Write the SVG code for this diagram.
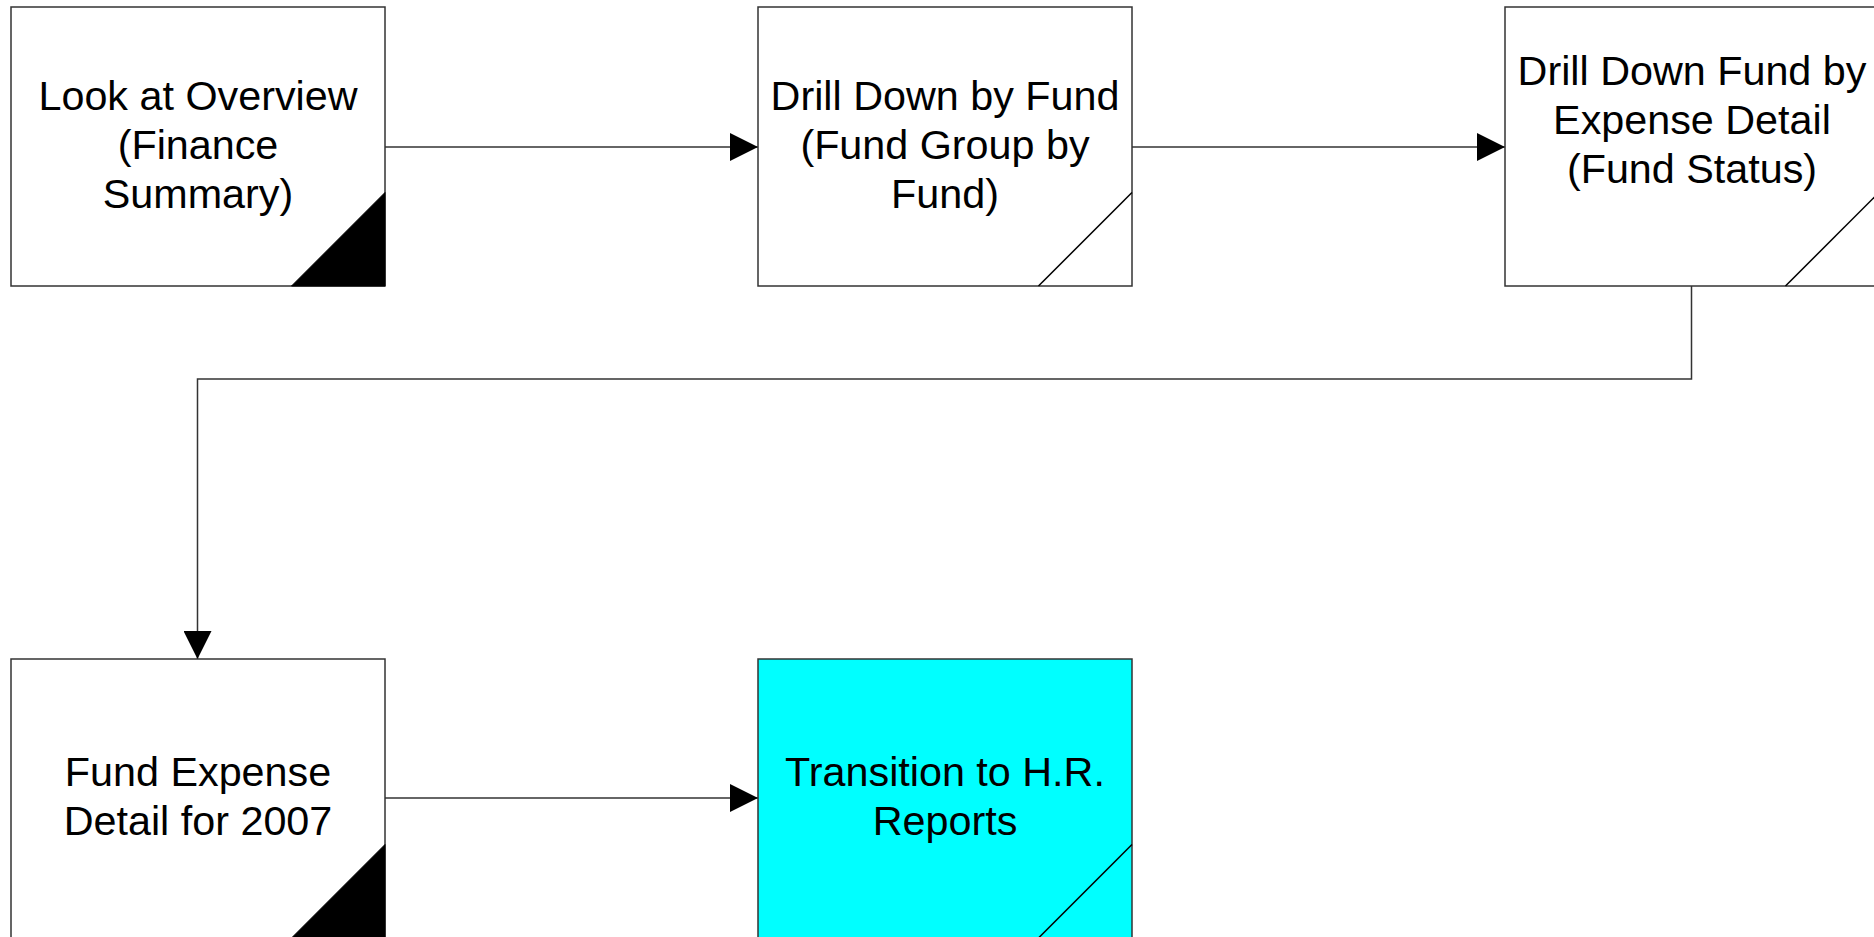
<svg xmlns="http://www.w3.org/2000/svg" width="1874" height="937" viewBox="0 0 1874 937">
<style>
.box{fill:#ffffff;stroke:#333333;stroke-width:1.5}
.cyan{fill:#00ffff}
.corner{fill:#000000;stroke:#000000;stroke-width:1}
.diag{fill:none;stroke:#000000;stroke-width:1.5}
.conn{fill:none;stroke:#333333;stroke-width:1.5}
text{font-family:"Liberation Sans",Arial,sans-serif;font-size:41.3px;fill:#000000;text-anchor:middle}
</style>
<defs>
<marker id="arr" markerWidth="28" markerHeight="28" viewBox="0 0 28 28" refX="28" refY="14" orient="auto" markerUnits="userSpaceOnUse">
<path d="M0,0 L28,14 L0,28 Z" fill="#000000"/>
</marker>
</defs>
<g id="connectors">
<line class="conn" x1="385" y1="147" x2="758" y2="147" marker-end="url(#arr)"/>
<line class="conn" x1="1131" y1="147" x2="1505" y2="147" marker-end="url(#arr)"/>
<polyline class="conn" points="1691.5,286 1691.5,379 197.5,379 197.5,659" marker-end="url(#arr)"/>
<line class="conn" x1="385" y1="798" x2="758" y2="798" marker-end="url(#arr)"/>
</g>
<g id="node1">
<rect class="box" x="11" y="7" width="374" height="279"/>
<polygon class="corner" points="291.5,286 385,192.5 385,286"/>
<text x="198" y="110">Look at Overview</text>
<text x="198" y="159">(Finance</text>
<text x="198" y="208">Summary)</text>
</g>
<g id="node2">
<rect class="box" x="758" y="7" width="374" height="279"/>
<line class="diag" x1="1038.5" y1="286" x2="1132" y2="192.5"/>
<text x="945" y="110">Drill Down by Fund</text>
<text x="945" y="159">(Fund Group by</text>
<text x="945" y="208">Fund)</text>
</g>
<g id="node3">
<rect class="box" x="1505" y="7" width="374" height="279"/>
<line class="diag" x1="1785.5" y1="286" x2="1879" y2="192.5"/>
<text x="1692" y="85">Drill Down Fund by</text>
<text x="1692" y="134">Expense Detail</text>
<text x="1692" y="183">(Fund Status)</text>
</g>
<g id="node4">
<rect class="box" x="11" y="659" width="374" height="279"/>
<polygon class="corner" points="291.5,938 385,844.5 385,938"/>
<text x="198" y="786">Fund Expense</text>
<text x="198" y="835">Detail for 2007</text>
</g>
<g id="node5">
<rect class="box cyan" x="758" y="659" width="374" height="279"/>
<line class="diag" x1="1038.5" y1="938" x2="1132" y2="844.5"/>
<text x="945" y="786">Transition to H.R.</text>
<text x="945" y="835">Reports</text>
</g>
</svg>
